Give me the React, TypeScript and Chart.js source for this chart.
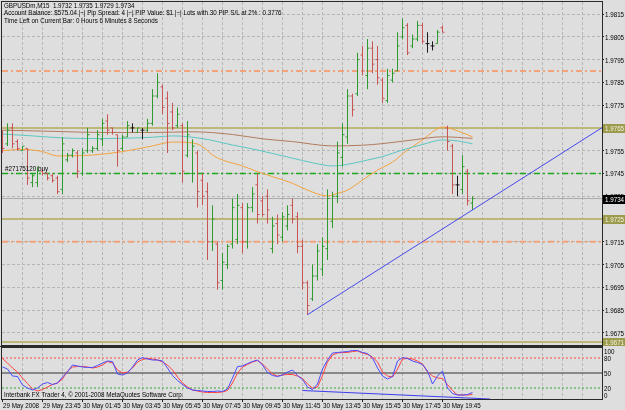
import React, { useEffect, useRef } from 'react';
import { Chart, registerables } from 'chart.js';
Chart.register(...registerables);

const FONT = "'Liberation Sans', Arial, sans-serif";
const FONT_PX = 8;
const SQUEEZE = 0.78;
const BG = '#dedede';
const GRID = '#b6b6b6';
const FRAME = '#2a2a2a';

// ---------- data ----------
const headerSymbol = 'GBPUSDm,M15';
const headerLine2 = 'Account Balance: $575.04 |~| Pip Spread: 4 |~| PIP Value: $1 |~| Lots with 30 PIP S/L at 2% : 0.3776';
const headerLine3 = 'Time Left on Current Bar: 0 Hours 6 Minutes 8 Seconds';
const copyright = 'Interbank FX Trader 4, \u00a9 2001-2008 MetaQuotes Software Corp.';

const dateLabels = ['29 May 2008', '29 May 23:45', '30 May 01:45', '30 May 03:45', '30 May 05:45', '30 May 07:45',
  '30 May 09:45', '30 May 11:45', '30 May 13:45', '30 May 15:45', '30 May 17:45', '30 May 19:45'];

const priceTicks = [1.9675, 1.9685, 1.9695, 1.9705, 1.9715, 1.9725, 1.9735, 1.9745, 1.9755, 1.9765, 1.9775, 1.9785, 1.9795, 1.9805, 1.9815];
const stochTicks = [100, 80, 50, 20, 0];

const opens = [1.9763, 1.9758, 1.9765, 1.9759, 1.9755, 1.9756, 1.9741, 1.9741, 1.9746, 1.9745,
  1.9744, 1.9743, 1.9738, 1.9751, 1.9753, 1.9754, 1.9745, 1.9755, 1.9755, 1.9756,
  1.9760, 1.9768, 1.9765, 1.9762, 1.9756, 1.9761, 1.9765, 1.9763, 1.9764, 1.9764,
  1.9767, 1.9779, 1.9783, 1.9778, 1.9772, 1.9766, 1.9766, 1.9753, 1.9745, 1.9754,
  1.9742, 1.9737, 1.9715, 1.9714, 1.9698, 1.9705, 1.9714, 1.9716, 1.9730, 1.9715,
  1.9730, 1.9740, 1.9733, 1.9735, 1.9712, 1.9723, 1.9717, 1.9722, 1.9731, 1.9726,
  1.9713, 1.9697, 1.9690, 1.9700, 1.9703, 1.9712, 1.9724, 1.9735, 1.9752, 1.9761,
  1.9779, 1.9780, 1.9797, 1.9788, 1.9800, 1.9795, 1.9786, 1.9777, 1.9786, 1.9790,
  1.9805, 1.9810, 1.9801, 1.9804, 1.9810, 1.9802, 1.9801, 1.9802, 1.9809, 1.9765,
  1.9757, 1.9740, 1.9738, 1.9746, 1.9732];
const highs = [1.9764, 1.9767, 1.9767, 1.9760, 1.9757, 1.9756, 1.9745, 1.9748, 1.9747, 1.9745,
  1.9745, 1.9744, 1.9761, 1.9754, 1.9756, 1.9755, 1.9756, 1.9765, 1.9757, 1.9764,
  1.9769, 1.9771, 1.9765, 1.9762, 1.9762, 1.9768, 1.9767, 1.9765, 1.9765, 1.9769,
  1.9782, 1.9789, 1.9784, 1.9781, 1.9776, 1.9774, 1.9767, 1.9768, 1.9760, 1.9755,
  1.9745, 1.9741, 1.9731, 1.9715, 1.9710, 1.9714, 1.9734, 1.9736, 1.9732, 1.9732,
  1.9739, 1.9745, 1.9735, 1.9738, 1.9726, 1.9727, 1.9728, 1.9731, 1.9734, 1.9728,
  1.9716, 1.9698, 1.9705, 1.9714, 1.9717, 1.9738, 1.9737, 1.9759, 1.9767, 1.9782,
  1.9780, 1.9798, 1.9801, 1.9804, 1.9803, 1.9801, 1.9787, 1.9791, 1.9791, 1.9807,
  1.9813, 1.9811, 1.9806, 1.9812, 1.9811, 1.9807, 1.9803, 1.9808, 1.9810, 1.9766,
  1.9758, 1.9744, 1.9753, 1.9747, 1.9735];
const lows = [1.9754, 1.9757, 1.9756, 1.9755, 1.9755, 1.9740, 1.9739, 1.9739, 1.9744, 1.9742,
  1.9741, 1.9736, 1.9736, 1.9750, 1.9752, 1.9743, 1.9744, 1.9754, 1.9754, 1.9755,
  1.9757, 1.9762, 1.9762, 1.9748, 1.9755, 1.9761, 1.9763, 1.9763, 1.9760, 1.9763,
  1.9766, 1.9778, 1.9771, 1.9754, 1.9764, 1.9765, 1.9741, 1.9752, 1.9741, 1.9730,
  1.9731, 1.9707, 1.9711, 1.9694, 1.9694, 1.9703, 1.9712, 1.9714, 1.9710, 1.9712,
  1.9728, 1.9723, 1.9726, 1.9723, 1.9710, 1.9714, 1.9715, 1.9720, 1.9723, 1.9710,
  1.9694, 1.9683, 1.9689, 1.9698, 1.9700, 1.9707, 1.9721, 1.9732, 1.9748, 1.9758,
  1.9770, 1.9779, 1.9788, 1.9782, 1.9789, 1.9784, 1.9776, 1.9776, 1.9785, 1.9790,
  1.9804, 1.9797, 1.9800, 1.9803, 1.9802, 1.9798, 1.9799, 1.9802, 1.9807, 1.9755,
  1.9736, 1.9735, 1.9736, 1.9731, 1.9729];
const closes = [1.9756, 1.9764, 1.9758, 1.9756, 1.9757, 1.9743, 1.9744, 1.9746, 1.9745, 1.9743,
  1.9742, 1.9737, 1.9758, 1.9753, 1.9755, 1.9746, 1.9754, 1.9762, 1.9756, 1.9762,
  1.9767, 1.9764, 1.9763, 1.9755, 1.9761, 1.9766, 1.9765, 1.9765, 1.9764, 1.9767,
  1.9779, 1.9785, 1.9774, 1.9767, 1.9765, 1.9771, 1.9746, 1.9762, 1.9757, 1.9737,
  1.9735, 1.9715, 1.9725, 1.9697, 1.9706, 1.9713, 1.9730, 1.9731, 1.9715, 1.9730,
  1.9736, 1.9727, 1.9727, 1.9729, 1.9722, 1.9718, 1.9726, 1.9727, 1.9725, 1.9713,
  1.9697, 1.9687, 1.9700, 1.9711, 1.9713, 1.9734, 1.9735, 1.9754, 1.9762, 1.9779,
  1.9773, 1.9795, 1.9790, 1.9800, 1.9793, 1.9787, 1.9778, 1.9788, 1.9789, 1.9801,
  1.9809, 1.9798, 1.9804, 1.9810, 1.9803, 1.9802, 1.9801, 1.9807, 1.9807, 1.9759,
  1.9740, 1.9740, 1.9748, 1.9733, 1.9734];

// moving averages, read at sample bars: [bar, price]
const maSlow = [[0, 1.9764], [10, 1.97635], [20, 1.9763], [30, 1.9763], [38, 1.97633], [46, 1.97621], [52, 1.97602],
  [58, 1.9759], [66, 1.97571], [72, 1.97574], [76, 1.97581], [82, 1.97597], [88, 1.97611], [94, 1.97604]];
const maMid = [[0, 1.97623], [6, 1.97615], [12, 1.97606], [20, 1.97603], [30, 1.97609], [34, 1.97615], [40, 1.97603],
  [46, 1.97575], [51, 1.97553], [58, 1.97517], [62, 1.97497], [66, 1.97483], [69, 1.9749], [73, 1.97509], [76, 1.97524],
  [80, 1.97553], [84, 1.97577], [88, 1.97597], [91, 1.97593], [94, 1.9758]];
const maFast = [[0, 1.9755], [4, 1.97556], [8, 1.97546], [11, 1.97527], [18, 1.97531], [24, 1.97546], [30, 1.97571],
  [34, 1.97588], [38, 1.97584], [40, 1.97568], [42, 1.97531], [44, 1.97509], [48, 1.97483], [51, 1.97458], [54, 1.97436],
  [58, 1.97407], [61, 1.97377], [65, 1.97351], [67, 1.97363], [69, 1.97377], [72, 1.97421], [75, 1.97465], [78, 1.975],
  [81, 1.97553], [84, 1.97597], [86, 1.97632], [88, 1.97654], [91, 1.97637], [94, 1.97611]];

const khakiLevels = [1.9765, 1.9725, 1.9671];
const salmonLevels = [1.9790, 1.9715];
const orderLevel = 1.9745;
const orderLabel = '#27175120 buy';
const trendAnchors = [[61, 1.9683], [94, 1.9729]];

const stochK = [62, 58, 44, 43, 26, 20, 16, 20, 28, 31, 27, 30, 42, 52, 66, 64, 62, 61, 61, 65,
  70, 74, 73, 48, 46, 50, 62, 76, 81, 78, 76, 76, 74, 60, 45, 35, 27, 20, 16, 15,
  14, 13, 13, 14, 13, 18, 40, 63, 64, 69, 73, 76, 66, 51, 45, 43, 46, 52, 56, 45,
  37, 22, 17, 28, 58, 76, 90, 91, 92, 93, 95, 95, 91, 89, 80, 60, 44, 38, 43, 74,
  81, 79, 74, 71, 67, 54, 28, 44, 54, 20, 9, 6, 6, 7, 11];
const stochD = [79, 70, 60, 52, 40, 29, 18, 14, 17, 22, 27, 30, 38, 54, 62, 63, 63, 62, 60, 62,
  66, 73, 70, 56, 50, 52, 60, 72, 77, 79, 78, 76, 72, 66, 56, 42, 30, 22, 16, 14,
  12, 11, 11, 11, 12, 15, 30, 50, 62, 67, 72, 75, 68, 58, 48, 44, 46, 47, 47, 44,
  39, 28, 20, 22, 45, 72, 86, 90, 91, 91, 93, 94, 90, 87, 82, 72, 52, 44, 42, 58,
  78, 79, 78, 74, 68, 52, 44, 40, 39, 27, 15, 6, 6, 6, 7];
const stochLevels = [80, 50, 20];
const stochTrend = [[60, 15], [97.5, -2]];

// ---------- layout constants ----------
const X_MIN = -0.1;
const X_MAX = 119.9;
const Y_MIN = 1.96697;
const Y_MAX = 1.982027;
const TICK = 0.4;
const gridIdx = Array.from({ length: 30 }, (_, k) => k * 4);

function barPoints(kind: string) {
  const pts: any[] = [];
  for (let i = 0; i < opens.length; i++) {
    const o = opens[i], c = closes[i];
    const k = c > o ? 'up' : c < o ? 'down' : 'flat';
    if (k !== kind) continue;
    pts.push({ x: i, y: lows[i] }, { x: i, y: highs[i] }, { x: i, y: null },
      { x: i - TICK, y: o }, { x: i, y: o }, { x: i, y: null },
      { x: i, y: c }, { x: i + TICK, y: c }, { x: i, y: null });
  }
  return pts;
}

function hLine(v: number, color: string, width: number, dash: number[], order: number) {
  return {
    data: [{ x: X_MIN, y: v }, { x: X_MAX, y: v }], borderColor: color, borderWidth: width,
    borderDash: dash, pointRadius: 0, order,
  };
}

function maSet(arr: number[][], color: string) {
  return {
    data: arr.map(([x, y]) => ({ x, y })), borderColor: color, borderWidth: 1, pointRadius: 0,
    cubicInterpolationMode: 'monotone', order: 3,
  };
}

// narrow terminal-style text
function txt(ctx: CanvasRenderingContext2D, s: string, x: number, y: number, color = '#000') {
  ctx.save();
  ctx.font = `${FONT_PX}px ${FONT}`;
  ctx.textBaseline = 'middle';
  ctx.textAlign = 'left';
  ctx.fillStyle = color;
  ctx.translate(x, y);
  ctx.scale(SQUEEZE, 1);
  ctx.fillText(s, 0, 0);
  ctx.restore();
}

const mainPlugin = {
  id: 'mainDeco',
  afterDraw(chart: any) {
    const { ctx, chartArea: a, scales } = chart;
    const ys = scales.y;
    ctx.save();
    ctx.strokeStyle = FRAME;
    ctx.lineWidth = 1;
    ctx.strokeRect(a.left - 0.5, a.top - 0.5, a.right - a.left + 1, a.bottom - a.top + 1);
    const n = opens.length - 1;
    const l1 = `${headerSymbol}  ${opens[n].toFixed(4)} ${highs[n].toFixed(4)} ${lows[n].toFixed(4)} ${closes[n].toFixed(4)}`;
    [l1, headerLine2, headerLine3].forEach((t, k) => txt(ctx, t, 4, 5.5 + k * 7.6));
    txt(ctx, orderLabel, 5, ys.getPixelForValue(orderLevel) - 4.5);
    priceTicks.forEach(v => txt(ctx, v.toFixed(4), a.right + 3, Math.round(ys.getPixelForValue(v)) + 0.5));
    const tag = (v: number, bg: string, fg: string) => {
      const y = Math.round(ys.getPixelForValue(v));
      ctx.fillStyle = bg;
      ctx.fillRect(a.right + 1, y - 4, 23, 9);
      txt(ctx, v.toFixed(4), a.right + 3, y + 0.5, fg);
    };
    khakiLevels.forEach(v => tag(v, '#9c9a4c', '#f4f4e4'));
    tag(closes[n], '#000000', '#ffffff');
    ctx.restore();
  },
};

const stochPlugin = {
  id: 'stochDeco',
  afterDraw(chart: any) {
    const { ctx, chartArea: a, scales } = chart;
    ctx.save();
    ctx.fillStyle = FRAME;
    ctx.fillRect(0, 0, a.right + 1, a.top - 1);
    ctx.strokeStyle = FRAME;
    ctx.lineWidth = 1;
    ctx.strokeRect(a.left - 0.5, a.top - 0.5, a.right - a.left + 1, a.bottom - a.top + 1);
    stochTicks.forEach(v => {
      let y = scales.y.getPixelForValue(v) + 1;
      y = Math.min(Math.max(y, a.top + 4), a.bottom - 3);
      txt(ctx, String(v), a.right + 2, y);
    });
    txt(ctx, copyright, a.left + 2, a.bottom - 4);
    const xs = scales.x;
    dateLabels.forEach((s, k) => txt(ctx, s, xs.getPixelForValue(k * 8) + 0.5, a.bottom + 6.5));
    ctx.restore();
  },
};

function trendData() {
  const [[x0, y0], [x1, y1]] = trendAnchors;
  const slope = (y1 - y0) / (x1 - x0);
  return [{ x: x0, y: y0 }, { x: X_MAX, y: y0 + slope * (X_MAX - x0) }];
}

export default function App() {
  const mainRef = useRef<HTMLCanvasElement>(null);
  const stochRef = useRef<HTMLCanvasElement>(null);

  useEffect(() => {
    const xGrid = {
      color: (c: any) => (c.tick && c.tick.value === 0 ? 'rgba(0,0,0,0)' : GRID),
      lineWidth: 1,
    };
    const main = new Chart(mainRef.current as HTMLCanvasElement, {
      type: 'line',
      data: {
        datasets: [
          { data: barPoints('up'), borderColor: '#2f9a2f', borderWidth: 1, pointRadius: 0, order: 1 },
          { data: barPoints('down'), borderColor: '#c85454', borderWidth: 1, pointRadius: 0, order: 1 },
          { data: barPoints('flat'), borderColor: '#1a1a1a', borderWidth: 1, pointRadius: 0, order: 1 },
          { data: trendData(), borderColor: '#4848ee', borderWidth: 1, pointRadius: 0, order: 0 },
          maSet(maSlow, '#b27a5c'),
          maSet(maMid, '#5cc6c0'),
          maSet(maFast, '#f5a23e'),
          ...khakiLevels.map(v => hLine(v, '#bdb77a', 2, [], 6)),
          ...salmonLevels.map(v => hLine(v, '#f4a27c', 2, [6, 3, 2, 3], 6)),
          hLine(orderLevel, '#1ea81e', 1.4, [6, 3, 2, 3], 6),
          hLine(closes[closes.length - 1], '#ababab', 1, [], 7),
        ] as any,
      },
      options: {
        animation: false,
        responsive: false,
        maintainAspectRatio: false,
        events: [],
        layout: { padding: { left: 2, top: 2, right: 0, bottom: 1 } },
        plugins: { legend: { display: false }, tooltip: { enabled: false }, title: { display: false } },
        elements: { point: { radius: 0 }, line: { tension: 0 } },
        scales: {
          x: {
            type: 'linear', min: X_MIN, max: X_MAX,
            afterBuildTicks: (s: any) => { s.ticks = gridIdx.map(v => ({ value: v })); },
            ticks: { display: false },
            grid: { ...xGrid, drawTicks: false },
            border: { display: false, dash: [3, 2] },
            afterFit: (s: any) => { s.height = 0; },
          },
          y: {
            type: 'linear', position: 'right', min: Y_MIN, max: Y_MAX,
            afterBuildTicks: (s: any) => { s.ticks = priceTicks.map(v => ({ value: v })); },
            ticks: { display: false },
            grid: { color: GRID, lineWidth: 1, tickColor: '#222', tickLength: 2, tickBorderDash: [] },
            border: { display: false, dash: [3, 2] },
            afterFit: (s: any) => { s.width = 23; },
          },
        },
      } as any,
      plugins: [mainPlugin],
    });

    const stoch = new Chart(stochRef.current as HTMLCanvasElement, {
      type: 'line',
      data: {
        datasets: [
          { data: stochK.map((v, i) => ({ x: i, y: v })), borderColor: '#4a4aff', borderWidth: 1, pointRadius: 0, order: 1 },
          { data: stochD.map((v, i) => ({ x: i, y: v })), borderColor: '#ff4040', borderWidth: 1, pointRadius: 0, order: 2 },
          { data: stochTrend.map(([x, y]) => ({ x, y })), borderColor: '#3c3cf0', borderWidth: 1, pointRadius: 0, order: 0 },
          hLine(stochLevels[0], '#ff4a4a', 1, [2, 2], 5),
          hLine(stochLevels[1], '#333333', 1, [], 5),
          hLine(stochLevels[2], '#36a836', 1, [2, 2], 5),
        ] as any,
      },
      options: {
        animation: false,
        responsive: false,
        maintainAspectRatio: false,
        events: [],
        layout: { padding: { left: 2, top: 2, right: 0, bottom: 0 } },
        plugins: { legend: { display: false }, tooltip: { enabled: false }, title: { display: false } },
        elements: { point: { radius: 0 }, line: { tension: 0 } },
        scales: {
          x: {
            type: 'linear', min: X_MIN, max: X_MAX,
            afterBuildTicks: (s: any) => { s.ticks = gridIdx.map(v => ({ value: v })); },
            ticks: { display: false },
            grid: {
              ...xGrid, drawTicks: true, tickLength: 3, tickBorderDash: [],
              tickColor: (c: any) => (c.tick && c.tick.value % 8 === 0 && dateLabels[c.tick.value / 8] ? '#222' : 'rgba(0,0,0,0)'),
            },
            border: { display: false, dash: [3, 2] },
            afterFit: (s: any) => { s.height = 11; },
          },
          y: {
            type: 'linear', position: 'right', min: -2, max: 100,
            ticks: { display: false },
            grid: { display: false },
            border: { display: false },
            afterFit: (s: any) => { s.width = 23; },
          },
        },
      } as any,
      plugins: [stochPlugin],
    });

    return () => { main.destroy(); stoch.destroy(); };
  }, []);

  return (
    <div style={{ position: 'fixed', left: 0, top: 0, width: 625, height: 410, background: BG, overflow: 'hidden' }}>
      <canvas ref={mainRef} width={625} height={346} style={{ position: 'absolute', left: 0, top: 0 }} />
      <canvas ref={stochRef} width={625} height={64} style={{ position: 'absolute', left: 0, top: 346 }} />
    </div>
  );
}
